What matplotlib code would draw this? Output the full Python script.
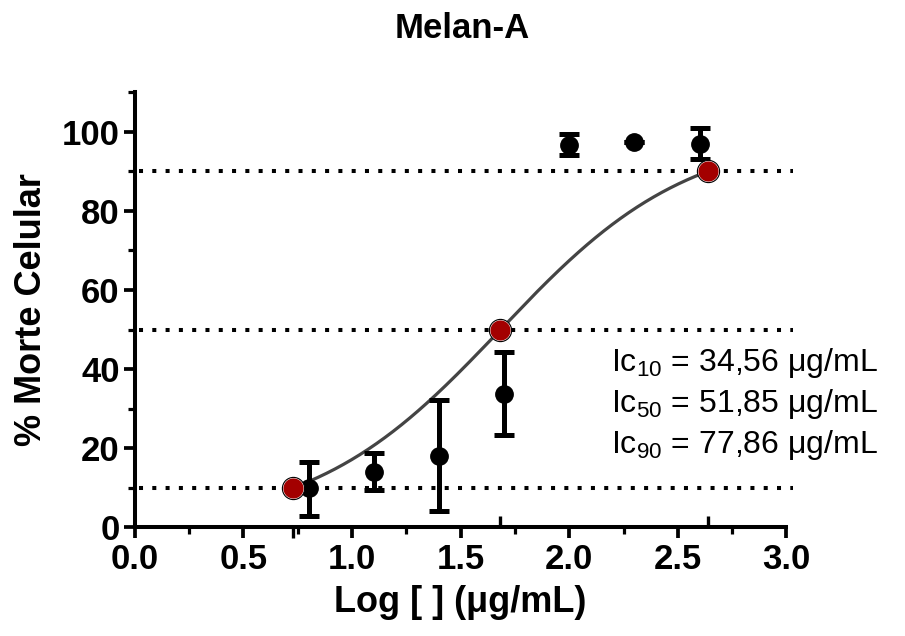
import numpy as np
import matplotlib
matplotlib.use('Agg')
import matplotlib.pyplot as plt
from matplotlib.ticker import MultipleLocator

plt.rcParams['font.family'] = ['Liberation Sans', 'DejaVu Sans']
plt.rcParams['mathtext.fontset'] = 'custom'
plt.rcParams['mathtext.rm'] = 'Liberation Sans'
plt.rcParams['mathtext.it'] = 'Liberation Sans:italic'
plt.rcParams['mathtext.bf'] = 'Liberation Sans:bold'

# dados (log da concentracao, % morte)
log_conc = [0.80, 1.10, 1.40, 1.70, 2.00, 2.30, 2.60]
morte = [9.8, 14.0, 18.0, 33.6, 96.7, 97.5, 97.0]
err_sup = [6.7, 4.7, 14.2, 10.8, 2.8, 0.0, 3.9]
err_inf = [7.0, 4.5, 14.0, 10.3, 2.5, 0.0, 3.9]

# pontos IC10, IC50, IC90
ic_x = [0.73, 1.68, 2.638]
ic_y = [10, 50, 90]
ic_txt = ['Ic$_{10}$ = 34,56 \u03bcg/mL',
          'Ic$_{50}$ = 51,85 \u03bcg/mL',
          'Ic$_{90}$ = 77,86 \u03bcg/mL']

# ajuste sigmoide (bottom, top, logIC50, hill)
bottom, top, logic50, hill = 0.0, 100.0, 1.684, 1.0

fig = plt.figure(figsize=(9.05, 6.36), dpi=100)
ax = fig.add_axes([0.149, 0.171, 0.720, 0.684])

xc = np.linspace(ic_x[0], ic_x[-1], 300)
yc = bottom + (top - bottom) / (1 + 10 ** ((logic50 - xc) * hill))

for yy in ic_y:
    ax.plot([0.02, 3.03], [yy, yy], color='black', lw=2.9,
            linestyle=(0, (1, 2.3)), zorder=1, clip_on=False)

ax.plot(xc, yc, color='#444444', lw=2.3, zorder=2)

ax.errorbar(log_conc, morte, yerr=[err_inf, err_sup], fmt='o', color='black',
            ms=12.5, elinewidth=3.6, capsize=7.5, capthick=3.6, zorder=3)

ax.plot(ic_x, ic_y, 'o', ms=16, mfc='white', mec='black', mew=0.8, zorder=4,
        clip_on=False)
ax.plot(ic_x, ic_y, 'o', ms=14.5, mfc='#a30000', mec='#a30000', mew=0, zorder=5,
        clip_on=False)

# ticks extra no eixo x
ax.vlines([ic_x[0]], -0.025, 0, transform=ax.get_xaxis_transform(),
          color='black', lw=2.4, clip_on=False)
ax.vlines(ic_x[1:], 0, 0.025, transform=ax.get_xaxis_transform(),
          color='black', lw=2.4, clip_on=False)

for i, t in enumerate(ic_txt):
    ax.text(2.19, 41.5 - i * 10.3, t, fontsize=23, va='center', ha='left')

ax.set_xlim(0, 3.0)
ax.set_ylim(0, 110)
ax.xaxis.set_minor_locator(MultipleLocator(0.25))
ax.yaxis.set_minor_locator(MultipleLocator(10))
ax.set_yticks([0, 20, 40, 60, 80, 100])
ax.set_xticks([0, 0.5, 1.0, 1.5, 2.0, 2.5, 3.0])
ax.set_xticklabels(['0.0', '0.5', '1.0', '1.5', '2.0', '2.5', '3.0'])

for s in ['top', 'right']:
    ax.spines[s].set_visible(False)
for s in ['left', 'bottom']:
    ax.spines[s].set_linewidth(2.9)

ax.tick_params(which='major', length=8, width=2.7, labelsize=25, pad=3)
ax.tick_params(which='minor', length=5, width=2.3)
for lab in ax.get_xticklabels() + ax.get_yticklabels():
    lab.set_fontweight('bold')

ax.set_xlabel('Log [ ] (\u03bcg/mL)', fontsize=26, fontweight='bold', labelpad=7)
ax.set_ylabel('% Morte Celular', fontsize=26, fontweight='bold', labelpad=9)
fig.text(0.511, 0.955, 'Melan-A', fontsize=25, fontweight='bold',
         ha='center', va='center')

plt.savefig('out.png', dpi=100)
